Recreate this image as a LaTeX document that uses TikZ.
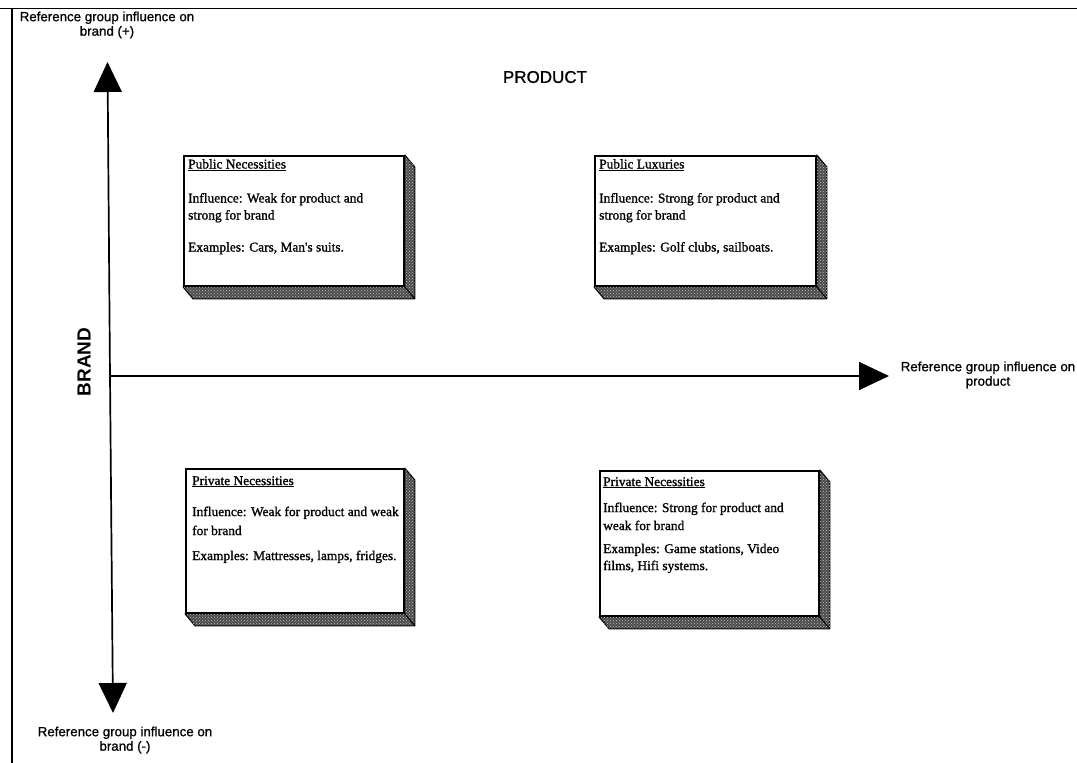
\documentclass[tikz,border=0pt]{standalone}
\usepackage{fontspec}
\setmainfont{Liberation Serif}
\setsansfont{Liberation Sans}
\newfontfamily\cardfont{Liberation Serif}[FakeBold=1.2]
\newfontfamily\labelfont{Liberation Sans}[FakeBold=0.8]
\usetikzlibrary{arrows.meta,calc,backgrounds,patterns}

% extruded bottom/right faces of a quadrant card
\newcommand{\carddepth}[1]{%
  \filldraw[depthface] (#1.north east) -- ++(10,12) -- ($(#1.south east)+(10,12)$)
    -- ($(#1.south west)+(10,12)$) -- (#1.south west) -- (#1.south east) -- cycle;
  \draw[depthedge] (#1.south east) -- ++(10,12);
}

\begin{document}
\begin{tikzpicture}[x=1pt,y=-1pt,
  frame/.style={line width=1.6pt},
  axis/.style={line width=1.7pt},
  bigtip/.style={-{Triangle[width=28pt,length=30pt]}},
  card/.style={draw=black, line width=1.8pt, fill=white, anchor=north west,
    inner sep=0pt, minimum width=#1},
  depthface/.style={fill=black!70, draw=black, line width=1.1pt, line join=round,
    postaction={pattern=crosshatch dots, pattern color=black!25}},
  depthedge/.style={draw=black, line width=1pt},
  cardtext/.style={font=\cardfont\fontsize{13.4}{17}\selectfont, align=left,
    anchor=north west, inner sep=0pt},
  axislabel/.style={font=\labelfont\fontsize{13.3}{14.5}\selectfont, align=center},
]
\useasboundingbox (0,0) rectangle (1077,763);

% page frame (top and left rules)
\coordinate (frameTL) at (12,8.5);
\coordinate (frameTR) at (1077,8.5);
\coordinate (frameBL) at (12,763);
\coordinate (frameL0) at (0,8.5);
\draw[frame] (frameL0) -- (frameTR);
\draw[frame] (frameTL) -- (frameBL);

% axes
\coordinate (origin) at (110,376);
\coordinate (brandTop) at (107.5,62);
\coordinate (brandBot) at (113,713);
\coordinate (prodEnd) at (889,376);
\draw[axis,bigtip] (origin) -- (brandTop);
\draw[axis,bigtip] (origin) -- (brandBot);
\draw[axis,bigtip] (origin) -- (prodEnd);

% axis labels
\node[axislabel] (lblTop) at (107,25) {Reference group influence on\\brand (+)};
\node[axislabel] (lblBot) at (125,740) {Reference group influence on\\brand (-)};
\node[axislabel] (lblRight) at (988,375) {Reference group influence on\\product};
\node[font=\labelfont\fontsize{17}{17}\selectfont] (product) at (545,77) {PRODUCT};
\node[font=\sffamily\bfseries\fontsize{19}{19}\selectfont, rotate=90] (brand) at (84,362) {BRAND};

% quadrant cards
\node[card=220pt, minimum height=130pt] (pubNec) at (183,155) {};
\node[card=221pt, minimum height=130pt] (pubLux) at (594,155) {};
\node[card=218pt, minimum height=144pt] (privNec) at (185,468) {};
\node[card=219pt, minimum height=145pt] (privLux) at (599,470) {};

\begin{scope}[on background layer]
  \fill[white] (0,0) rectangle (1077,763);
  \carddepth{pubNec}
  \carddepth{pubLux}
  \carddepth{privNec}
  \carddepth{privLux}
\end{scope}

\node[cardtext] (pubNecTxt) at ($(pubNec.north west)+(5,4)$)
  {\underline{Public Necessities}\\[17pt]
   Influence: Weak for product and\\
   strong for brand\\[15pt]
   Examples: Cars, Man's suits.};
\node[cardtext] (pubLuxTxt) at ($(pubLux.north west)+(5,4)$)
  {\underline{Public Luxuries}\\[17pt]
   Influence: Strong for product and\\
   strong for brand\\[15pt]
   Examples: Golf clubs, sailboats.};
\node[cardtext] (privNecTxt) at ($(privNec.north west)+(7,8)$)
  {\underline{Private Necessities}\\[14pt]
   Influence: Weak for product and weak\\[2pt]
   for brand\\[8pt]
   Examples: Mattresses, lamps, fridges.};
\node[cardtext] (privLuxTxt) at ($(privLux.north west)+(4,7)$)
  {\underline{Private Necessities}\\[9pt]
   Influence: Strong for product and\\[1pt]
   weak for brand\\[6pt]
   Examples: Game stations, Video\\
   films, Hifi systems.};
\end{tikzpicture}
\end{document}
